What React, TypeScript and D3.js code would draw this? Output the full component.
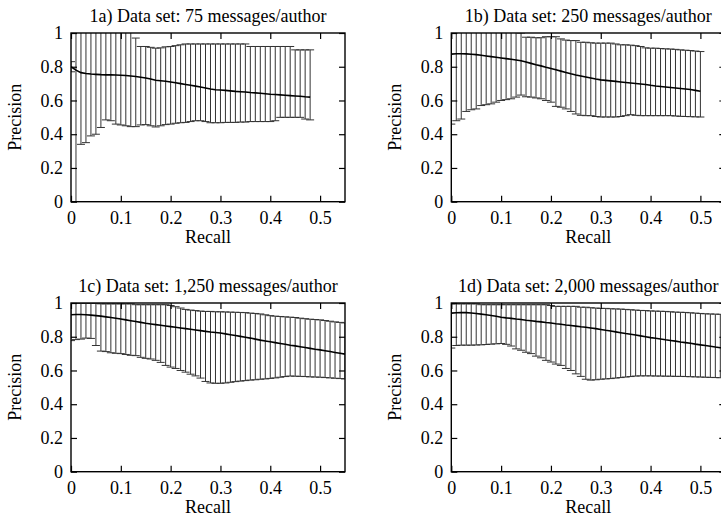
import { useEffect, useRef } from 'react';
import * as d3 from 'd3';

const recall = [
  0, 0.01, 0.02, 0.03, 0.04, 0.05, 0.06, 0.07, 0.08, 0.09,
  0.1, 0.11, 0.12, 0.13, 0.14, 0.15, 0.16, 0.17, 0.18, 0.19,
  0.2, 0.21, 0.22, 0.23, 0.24, 0.25, 0.26, 0.27, 0.28, 0.29,
  0.3, 0.31, 0.32, 0.33, 0.34, 0.35, 0.36, 0.37, 0.38, 0.39,
  0.4, 0.41, 0.42, 0.43, 0.44, 0.45, 0.46, 0.47, 0.48, 0.49,
  0.5, 0.51, 0.52, 0.53, 0.54, 0.55,
];

const xTicks = [0, 0.1, 0.2, 0.3, 0.4, 0.5];
const yTicks = [0, 0.2, 0.4, 0.6, 0.8, 1];

const titles = [
  '1a) Data set: 75 messages/author',
  '1b) Data set: 250 messages/author',
  '1c) Data set: 1,250 messages/author',
  '1d) Data set: 2,000 messages/author',
];

// 1a
const meanA = [0.80, 0.78, 0.765, 0.76, 0.757, 0.755, 0.753, 0.752, 0.752, 0.751,
  0.75, 0.748, 0.745, 0.742, 0.738, 0.733, 0.727, 0.72, 0.717, 0.714,
  0.71, 0.705, 0.70, 0.695, 0.69, 0.685, 0.68, 0.674, 0.668, 0.664,
  0.662, 0.66, 0.657, 0.654, 0.652, 0.65, 0.647, 0.645, 0.643, 0.64,
  0.637, 0.635, 0.633, 0.631, 0.629, 0.627, 0.625, 0.622, 0.62];
const lowA = [0.77, -0.1, 0.34, 0.35, 0.39, 0.40, 0.44, 0.485, 0.48, 0.46,
  0.455, 0.45, 0.445, 0.445, 0.455, 0.457, 0.45, 0.443, 0.45, 0.457,
  0.46, 0.465, 0.468, 0.47, 0.475, 0.48, 0.48, 0.475, 0.468, 0.468,
  0.468, 0.47, 0.47, 0.47, 0.472, 0.472, 0.475, 0.475, 0.475, 0.475,
  0.475, 0.48, 0.50, 0.50, 0.50, 0.50, 0.50, 0.49, 0.485];
const highA = [0.83, 1.2, 1.2, 1.2, 1.2, 1.2, 1.2, 1.2, 1.2, 1.2,
  1.2, 1.2, 1.2, 0.97, 0.92, 0.92, 0.915, 0.91, 0.912, 0.918,
  0.92, 0.925, 0.93, 0.935, 0.935, 0.935, 0.935, 0.935, 0.935, 0.935,
  0.935, 0.935, 0.935, 0.935, 0.935, 0.935, 0.92, 0.92, 0.92, 0.92,
  0.92, 0.92, 0.92, 0.92, 0.92, 0.90, 0.90, 0.90, 0.90];

// 1b
const meanB = [0.875, 0.877, 0.877, 0.876, 0.874, 0.872, 0.868, 0.864, 0.86, 0.856,
  0.852, 0.848, 0.844, 0.84, 0.835, 0.828, 0.82, 0.812, 0.805, 0.797,
  0.79, 0.782, 0.774, 0.766, 0.758, 0.751, 0.745, 0.739, 0.733, 0.727,
  0.722, 0.719, 0.716, 0.713, 0.71, 0.707, 0.704, 0.701, 0.698, 0.695,
  0.69, 0.686, 0.683, 0.68, 0.677, 0.674, 0.671, 0.668, 0.665, 0.66, 0.655];
const lowB = [0.46, 0.48, 0.49, 0.535, 0.545, 0.55, 0.57, 0.575, 0.58, 0.59,
  0.60, 0.605, 0.61, 0.62, 0.632, 0.622, 0.62, 0.615, 0.61, 0.60,
  0.59, 0.565, 0.56, 0.55, 0.535, 0.52, 0.512, 0.51, 0.51, 0.505,
  0.502, 0.502, 0.502, 0.502, 0.505, 0.51, 0.516, 0.512, 0.51, 0.51,
  0.51, 0.51, 0.51, 0.51, 0.51, 0.508, 0.506, 0.505, 0.504, 0.503, 0.502];
const highB = [1.3, 1.3, 1.3, 1.3, 1.28, 1.26, 1.24, 1.22, 1.2, 1.18,
  1.15, 1.12, 1.08, 1.04, 1.0, 0.975, 0.975, 0.972, 0.972, 0.978,
  0.978, 0.978, 0.965, 0.958, 0.955, 0.955, 0.945, 0.945, 0.942, 0.94,
  0.94, 0.94, 0.94, 0.935, 0.93, 0.93, 0.928, 0.925, 0.92, 0.912,
  0.91, 0.91, 0.908, 0.906, 0.905, 0.903, 0.90, 0.898, 0.896, 0.893, 0.89];

// 1c
const meanC = [0.930, 0.932, 0.932, 0.930, 0.928, 0.925, 0.922, 0.918, 0.914, 0.910,
  0.905, 0.900, 0.895, 0.890, 0.885, 0.880, 0.876, 0.872, 0.868, 0.864,
  0.860, 0.856, 0.852, 0.848, 0.844, 0.840, 0.836, 0.832, 0.828, 0.825,
  0.822, 0.817, 0.812, 0.807, 0.802, 0.797, 0.792, 0.786, 0.780, 0.775,
  0.770, 0.765, 0.760, 0.755, 0.750, 0.746, 0.741, 0.736, 0.731, 0.726,
  0.722, 0.717, 0.712, 0.707, 0.702, 0.697];
const lowC = [0.777, 0.783, 0.786, 0.792, 0.790, 0.748, 0.715, 0.712, 0.705, 0.702,
  0.700, 0.695, 0.690, 0.688, 0.678, 0.672, 0.668, 0.660, 0.648, 0.630,
  0.620, 0.612, 0.600, 0.590, 0.578, 0.568, 0.555, 0.535, 0.526, 0.524,
  0.524, 0.526, 0.530, 0.534, 0.537, 0.540, 0.543, 0.545, 0.548, 0.550,
  0.553, 0.556, 0.560, 0.564, 0.567, 0.566, 0.565, 0.564, 0.562, 0.561,
  0.560, 0.558, 0.556, 0.554, 0.552, 0.550];
const highC = [0.998, 0.998, 0.998, 0.998, 0.998, 0.998, 0.995, 0.995, 0.995, 0.995,
  0.995, 0.995, 0.995, 0.99, 0.99, 0.99, 0.99, 0.99, 0.99, 0.99,
  0.985, 0.978, 0.970, 0.962, 0.958, 0.955, 0.952, 0.950, 0.950, 0.948,
  0.948, 0.947, 0.946, 0.945, 0.944, 0.943, 0.940, 0.938, 0.935, 0.930,
  0.925, 0.922, 0.920, 0.918, 0.916, 0.914, 0.910, 0.907, 0.904, 0.902,
  0.900, 0.896, 0.892, 0.888, 0.885, 0.882];

// 1d
const meanD = [0.940, 0.942, 0.943, 0.943, 0.941, 0.938, 0.934, 0.930, 0.926, 0.921,
  0.916, 0.912, 0.909, 0.905, 0.902, 0.898, 0.895, 0.891, 0.888, 0.884,
  0.881, 0.877, 0.874, 0.870, 0.867, 0.863, 0.859, 0.856, 0.852, 0.848,
  0.843, 0.838, 0.834, 0.829, 0.824, 0.819, 0.815, 0.810, 0.805, 0.800,
  0.795, 0.791, 0.787, 0.782, 0.778, 0.774, 0.769, 0.765, 0.761, 0.756,
  0.752, 0.748, 0.744, 0.739, 0.735, 0.731];
const lowD = [0.733, 0.748, 0.750, 0.750, 0.750, 0.751, 0.752, 0.754, 0.756, 0.758,
  0.760, 0.755, 0.745, 0.728, 0.720, 0.708, 0.700, 0.685, 0.675, 0.660,
  0.650, 0.638, 0.630, 0.612, 0.600, 0.580, 0.565, 0.548, 0.543, 0.545,
  0.548, 0.550, 0.552, 0.555, 0.558, 0.561, 0.564, 0.567, 0.568, 0.568,
  0.568, 0.567, 0.567, 0.566, 0.566, 0.565, 0.565, 0.564, 0.563, 0.562,
  0.561, 0.560, 0.559, 0.558, 0.557, 0.556];
const highD = [0.995, 0.995, 0.995, 0.995, 0.995, 0.995, 0.99, 0.99, 0.99, 0.99,
  0.99, 0.99, 0.99, 0.99, 0.99, 0.99, 0.99, 0.99, 0.99, 0.99,
  0.985, 0.98, 0.98, 0.98, 0.98, 0.98, 0.975, 0.975, 0.972, 0.97,
  0.968, 0.968, 0.966, 0.965, 0.964, 0.962, 0.96, 0.958, 0.956, 0.955,
  0.953, 0.952, 0.951, 0.95, 0.948, 0.946, 0.945, 0.944, 0.942, 0.94,
  0.938, 0.936, 0.935, 0.934, 0.933, 0.932];

const series = [
  { mean: meanA, low: lowA, high: highA },
  { mean: meanB, low: lowB, high: highB },
  { mean: meanC, low: lowC, high: highC },
  { mean: meanD, low: lowD, high: highD },
];

const FONT = '"Liberation Serif", "Times New Roman", serif';

const App = () => {
  const svgRef = useRef(null);

  useEffect(() => {
    if (!svgRef.current) return;
    const svg = d3.select(svgRef.current);
    svg.selectAll('*').remove();

    const W = 274;
    const H = 168.7;
    const lefts = [71, 451.3];
    const tops = [33, 303];
    const tick = 6;
    const cap = 4;

    series.forEach((s, i) => {
      const left = lefts[i % 2];
      const top = tops[Math.floor(i / 2)];
      const x = d3.scaleLinear().domain([0, 0.55]).range([left, left + W]);
      const y = d3.scaleLinear().domain([0, 1]).range([top + H, top]);

      const pts = s.mean.map((m, j) => ({ r: recall[j], m, lo: s.low[j], hi: s.high[j] }));

      svg.append('clipPath')
        .attr('id', `clip${i}`)
        .append('rect')
        .attr('x', left)
        .attr('y', top)
        .attr('width', W)
        .attr('height', H);

      const g = svg.append('g').attr('clip-path', `url(#clip${i})`);

      g.selectAll('line.bar')
        .data(pts)
        .enter()
        .append('line')
        .attr('class', 'bar')
        .attr('x1', d => x(d.r))
        .attr('x2', d => x(d.r))
        .attr('y1', d => y(d.lo))
        .attr('y2', d => y(d.hi))
        .attr('stroke', '#333')
        .attr('stroke-width', 1);

      ['lo', 'hi'].forEach(k => {
        g.selectAll(`line.cap-${k}`)
          .data(pts)
          .enter()
          .append('line')
          .attr('class', `cap-${k}`)
          .attr('x1', d => x(d.r) - cap)
          .attr('x2', d => x(d.r) + cap)
          .attr('y1', d => y(d[k]))
          .attr('y2', d => y(d[k]))
          .attr('stroke', '#333')
          .attr('stroke-width', 1);
      });

      const line = d3.line()
        .x(d => x(d.r))
        .y(d => y(d.m));

      g.append('path')
        .datum(pts)
        .attr('fill', 'none')
        .attr('stroke', '#000')
        .attr('stroke-width', 1.6)
        .attr('d', line);

      // axes, gnuplot style: ticks inward on all four sides
      const styleAxis = sel => {
        sel.select('.domain').remove();
        sel.selectAll('line').attr('stroke', '#000').attr('stroke-width', 1.2);
        sel.selectAll('text')
          .attr('font-family', FONT)
          .attr('font-size', 18)
          .attr('fill', '#000');
      };

      svg.append('g')
        .attr('transform', `translate(0,${top + H})`)
        .call(d3.axisBottom(x).tickValues(xTicks).tickFormat(d => String(d))
          .tickSizeInner(-tick).tickSizeOuter(0).tickPadding(10))
        .call(styleAxis);

      svg.append('g')
        .attr('transform', `translate(0,${top})`)
        .call(d3.axisTop(x).tickValues(xTicks).tickFormat(() => '')
          .tickSizeInner(-tick).tickSizeOuter(0))
        .call(styleAxis);

      svg.append('g')
        .attr('transform', `translate(${left},0)`)
        .call(d3.axisLeft(y).tickValues(yTicks).tickFormat(d => String(d))
          .tickSizeInner(-tick).tickSizeOuter(0).tickPadding(8))
        .call(styleAxis);

      svg.append('g')
        .attr('transform', `translate(${left + W},0)`)
        .call(d3.axisRight(y).tickValues(yTicks).tickFormat(() => '')
          .tickSizeInner(-tick).tickSizeOuter(0))
        .call(styleAxis);

      svg.append('rect')
        .attr('x', left)
        .attr('y', top)
        .attr('width', W)
        .attr('height', H)
        .attr('fill', 'none')
        .attr('stroke', '#000')
        .attr('stroke-width', 1.4);

      svg.append('text')
        .attr('x', left + W / 2)
        .attr('y', top - 11)
        .attr('text-anchor', 'middle')
        .attr('font-family', FONT)
        .attr('font-size', 18)
        .text(titles[i]);

      svg.append('text')
        .attr('x', left + W / 2)
        .attr('y', top + H + 41)
        .attr('text-anchor', 'middle')
        .attr('font-family', FONT)
        .attr('font-size', 18)
        .text('Recall');

      svg.append('text')
        .attr('transform', `translate(${left - 50},${top + H / 2}) rotate(-90)`)
        .attr('text-anchor', 'middle')
        .attr('font-family', FONT)
        .attr('font-size', 18)
        .text('Precision');
    });
  }, []);

  return (
    <div style={{ position: 'absolute', left: 0, top: 0, width: 721, height: 517, background: '#fff' }}>
      <svg ref={svgRef} width={721} height={517}></svg>
    </div>
  );
};

export default App;
